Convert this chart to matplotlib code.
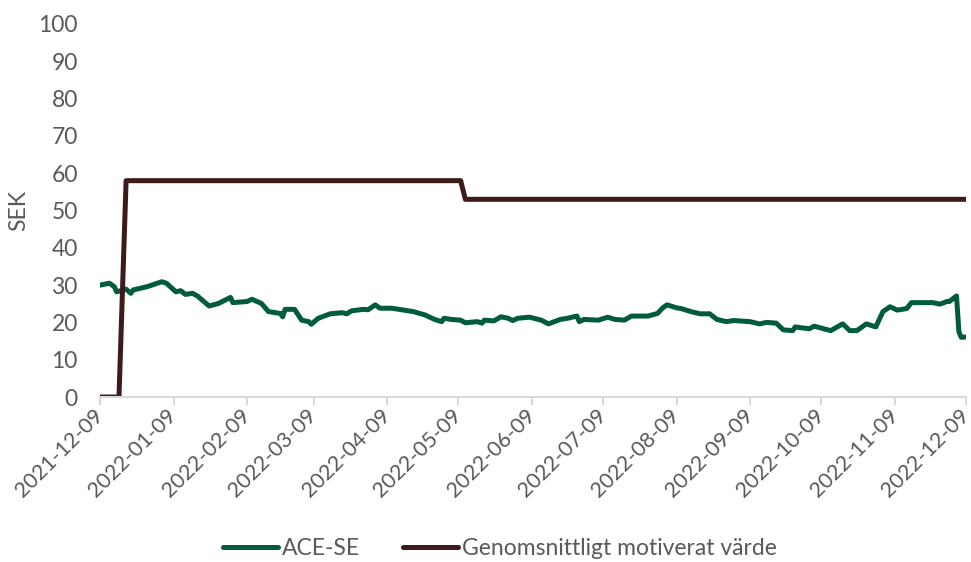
import matplotlib
matplotlib.use("Agg")
import matplotlib.pyplot as plt
import matplotlib.transforms as mtransforms
import pandas as pd

# ---- data ----
ace_dates = [
    "2021-12-09", "2021-12-13", "2021-12-15", "2021-12-16", "2021-12-20", "2021-12-22",
    "2021-12-23", "2021-12-29", "2022-01-04", "2022-01-06", "2022-01-10", "2022-01-12",
    "2022-01-14", "2022-01-17", "2022-01-19", "2022-01-24", "2022-01-28", "2022-02-02",
    "2022-02-03", "2022-02-09", "2022-02-11", "2022-02-15", "2022-02-18", "2022-02-23",
    "2022-02-24", "2022-02-25", "2022-03-01", "2022-03-04", "2022-03-07", "2022-03-08",
    "2022-03-11", "2022-03-16", "2022-03-21", "2022-03-23", "2022-03-25", "2022-03-30",
    "2022-04-01", "2022-04-04", "2022-04-06", "2022-04-11", "2022-04-14", "2022-04-20",
    "2022-04-25", "2022-04-29", "2022-05-02", "2022-05-03", "2022-05-06", "2022-05-10",
    "2022-05-12", "2022-05-17", "2022-05-19", "2022-05-20", "2022-05-24", "2022-05-27",
    "2022-05-30", "2022-06-01", "2022-06-03", "2022-06-08", "2022-06-13", "2022-06-16",
    "2022-06-21", "2022-06-24", "2022-06-28", "2022-06-29", "2022-07-01", "2022-07-07",
    "2022-07-11", "2022-07-14", "2022-07-18", "2022-07-21", "2022-07-28", "2022-08-01",
    "2022-08-03", "2022-08-05", "2022-08-09", "2022-08-11", "2022-08-15", "2022-08-19",
    "2022-08-23", "2022-08-26", "2022-08-30", "2022-09-02", "2022-09-09", "2022-09-13",
    "2022-09-16", "2022-09-20", "2022-09-23", "2022-09-27", "2022-09-28", "2022-09-30",
    "2022-10-04", "2022-10-06", "2022-10-10", "2022-10-13", "2022-10-18", "2022-10-21",
    "2022-10-24", "2022-10-28", "2022-11-01", "2022-11-02", "2022-11-04", "2022-11-07",
    "2022-11-10", "2022-11-14", "2022-11-16", "2022-11-18", "2022-11-25", "2022-11-28",
    "2022-12-01", "2022-12-02", "2022-12-05", "2022-12-06", "2022-12-07", "2022-12-09",
]
ace_values = [
    30.0, 30.5, 29.6, 28.2, 28.9, 27.8,
    28.7, 29.6, 30.9, 30.5, 28.2, 28.5,
    27.5, 27.8, 27.1, 24.4, 25.1, 26.7,
    25.3, 25.6, 26.2, 25.1, 22.9, 22.4,
    21.5, 23.5, 23.5, 20.6, 20.2, 19.5,
    21.1, 22.3, 22.6, 22.3, 23.1, 23.5,
    23.4, 24.7, 23.8, 23.8, 23.5, 22.9,
    22.0, 20.8, 20.2, 21.1, 20.8, 20.6,
    19.9, 20.2, 19.8, 20.6, 20.4, 21.5,
    21.1, 20.5, 21.1, 21.4, 20.6, 19.6,
    20.8, 21.1, 21.7, 20.2, 20.8, 20.6,
    21.4, 20.8, 20.6, 21.7, 21.7, 22.4,
    23.8, 24.7, 23.9, 23.7, 22.9, 22.3,
    22.3, 20.8, 20.2, 20.5, 20.2, 19.6,
    20.0, 19.8, 18.0, 17.8, 18.8, 18.6,
    18.3, 19.0, 18.3, 17.8, 19.6, 17.8,
    17.8, 19.6, 18.8, 20.2, 22.9, 24.2,
    23.3, 23.7, 25.3, 25.3, 25.3, 24.9,
    25.6, 25.6, 27.1, 17.5, 16.0, 16.1,
]
target_dates = ["2021-12-09", "2021-12-17", "2021-12-20", "2022-05-10", "2022-05-12", "2022-12-09"]
target_values = [0, 0, 58, 58, 53, 53]

tick_labels = ["2021-12-09", "2022-01-09", "2022-02-09", "2022-03-09", "2022-04-09",
               "2022-05-09", "2022-06-09", "2022-07-09", "2022-08-09", "2022-09-09",
               "2022-10-09", "2022-11-09", "2022-12-09"]
series_names = ["ACE-SE", "Genomsnittligt motiverat värde"]
y_ticks = [0, 10, 20, 30, 40, 50, 60, 70, 80, 90, 100]

# ---- style ----
plt.rcParams['font.family'] = ['Lato', 'DejaVu Sans']
TXT = "#595959"
GREEN = "#005C3C"
BROWN = "#3D1B1B"
FS = 16.5

fig = plt.figure(figsize=(9.71, 5.62), dpi=100)
ax = fig.add_axes([100 / 971, 1 - 397 / 562, 866 / 971, 373 / 562])

ax.plot(pd.to_datetime(ace_dates), ace_values, color=GREEN, lw=3.6,
        solid_joinstyle="round", solid_capstyle="round", label=series_names[0])
ax.plot(pd.to_datetime(target_dates), target_values, color=BROWN, lw=3.6,
        solid_joinstyle="round", solid_capstyle="round", label=series_names[1])

ticks = pd.to_datetime(tick_labels)
ax.set_xlim(ticks[0], ticks[-1])
ax.set_ylim(0, 100)
ax.set_xticks(ticks)
ax.set_xticklabels(tick_labels, rotation=45, ha="right", va="center",
                   rotation_mode="anchor", fontsize=15.5, color=TXT)
shift = mtransforms.ScaledTranslation(-5 / 72, 0, fig.dpi_scale_trans)
for lab in ax.get_xticklabels():
    lab.set_transform(lab.get_transform() + shift)
ax.set_yticks(y_ticks)
ax.set_yticklabels([str(v) for v in y_ticks], fontsize=FS, color=TXT)

for s in ["top", "right", "left"]:
    ax.spines[s].set_visible(False)
ax.spines["bottom"].set_color("#D9D9D9")
ax.spines["bottom"].set_linewidth(1.5)
ax.tick_params(axis="x", direction="out", length=6, width=1.5, color="#D9D9D9", pad=5)
ax.tick_params(axis="y", length=0, pad=16)
ax.set_ylabel("SEK", fontsize=FS, color=TXT)
ax.yaxis.set_label_coords(-0.082, 0.5)

leg = fig.legend(loc="lower center", bbox_to_anchor=(0.515, -0.032), ncol=2, frameon=False,
                 fontsize=FS, handlelength=2.4, handletextpad=0.15, columnspacing=1.9)
for t in leg.get_texts():
    t.set_color(TXT)

fig.savefig("out.png", dpi=100)
